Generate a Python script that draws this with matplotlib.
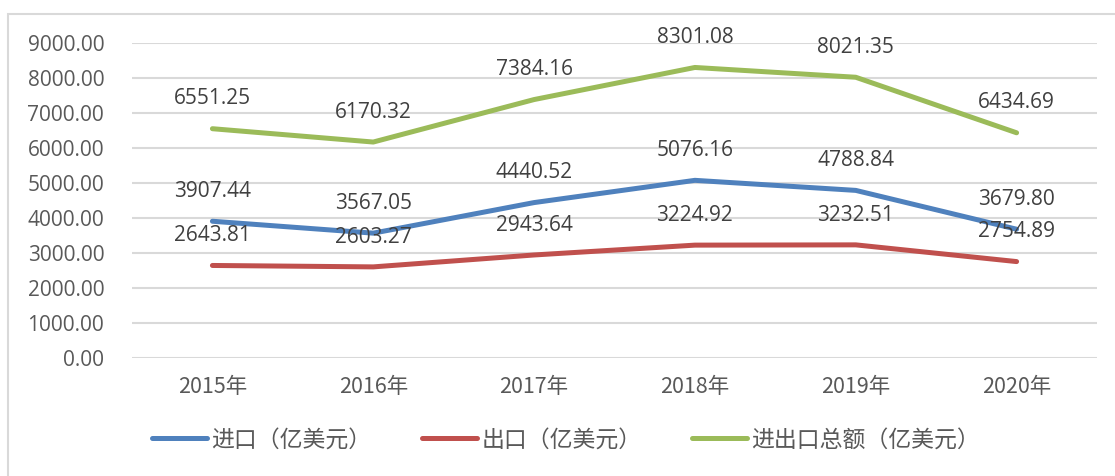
import matplotlib
matplotlib.use("Agg")
import matplotlib.pyplot as plt
from matplotlib.patches import Rectangle

years = ["2015年", "2016年", "2017年", "2018年", "2019年", "2020年"]
imports = [3907.44, 3567.05, 4440.52, 5076.16, 4788.84, 3679.80]
exports = [2643.81, 2603.27, 2943.64, 3224.92, 3232.51, 2754.89]
totals = [6551.25, 6170.32, 7384.16, 8301.08, 8021.35, 6434.69]
series_names = ["进口（亿美元）", "出口（亿美元）", "进出口总额（亿美元）"]
y_ticks = [0, 1000, 2000, 3000, 4000, 5000, 6000, 7000, 8000, 9000]

colors = ["#4F81BD", "#C0504D", "#9BBB59"]
cjk = ["Noto Sans CJK SC", "DejaVu Sans"]
num_font = ["Open Sans", "DejaVu Sans"]

fig = plt.figure(figsize=(11.15, 4.76), dpi=100)
ax = fig.add_axes([132 / 1115, (476 - 358) / 476, (1097 - 132) / 1115, (358 - 43) / 476])

x = list(range(len(years)))
for vals, name, c in zip([imports, exports, totals], series_names, colors):
    ax.plot(x, vals, color=c, lw=3.6, solid_capstyle="round", solid_joinstyle="round", label=name)
    for xi, v in zip(x, vals):
        ax.annotate("%.2f" % v, (xi, v), xytext=(0, 17.5), textcoords="offset points",
                    ha="center", va="baseline", fontsize=15, color="#404040", family=num_font)

ax.set_xlim(-0.5, 5.5)
ax.set_ylim(0, 9000)
ax.set_yticks(y_ticks)
ax.set_yticklabels(["%.2f" % t for t in y_ticks], family=num_font, fontsize=15, color="#595959")
ax.set_xticks(x)
ax.set_xticklabels(years, family=cjk, fontsize=15.5, color="#595959")
ax.tick_params(axis="y", length=0, pad=20)
ax.tick_params(axis="x", length=0, pad=13)
ax.grid(axis="y", color="#D9D9D9", lw=1.5)
ax.set_axisbelow(True)
for s in ax.spines.values():
    s.set_visible(False)

leg = fig.legend(loc="center", bbox_to_anchor=(566 / 1115, 1 - 440 / 476), ncol=3, frameon=False,
                 prop={"family": cjk, "size": 16.5}, handlelength=2.4, handletextpad=0.2,
                 columnspacing=2.2)
for t in leg.get_texts():
    t.set_color("#595959")

fig.patches.append(Rectangle((8 / 1115, -0.1), 1.2, 1.1 - 14 / 476, transform=fig.transFigure,
                             fill=False, edgecolor="#D9D9D9", lw=1.5))

fig.savefig("out.png", dpi=100)
